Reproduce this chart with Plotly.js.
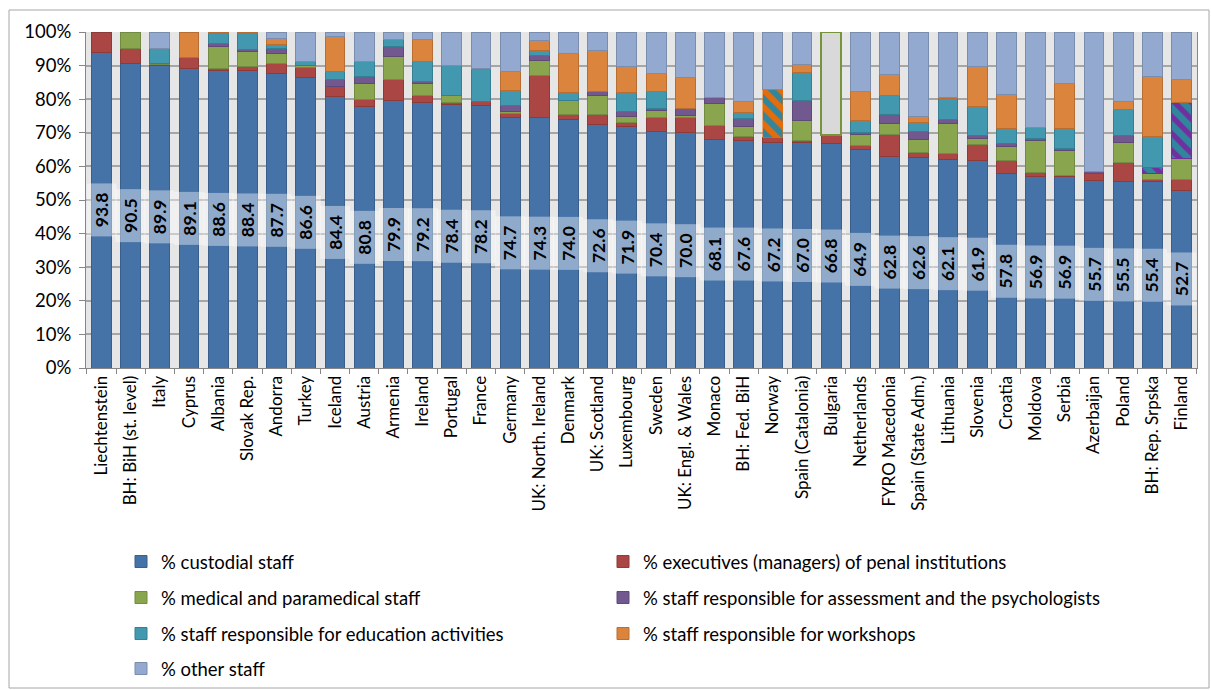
<!DOCTYPE html>
<html>
<head>
<meta charset="utf-8">
<script src="https://cdn.plot.ly/plotly-3.0.1.min.js"></script>
<style>
  html, body { margin: 0; padding: 0; background: #ffffff; }
  #chart { width: 1211px; height: 690px; }
</style>
</head>
<body>
<div id="chart"></div>
<script>
// ---------------- DATA ----------------
const countries = ["Liechtenstein", "BH: BiH (st. level)", "Italy", "Cyprus", "Albania", "Slovak Rep.", "Andorra", "Turkey",
  "Iceland", "Austria", "Armenia", "Ireland", "Portugal", "France", "Germany", "UK: North. Ireland", "Denmark",
  "UK: Scotland", "Luxembourg", "Sweden", "UK: Engl. & Wales", "Monaco", "BH: Fed. BiH", "Norway", "Spain (Catalonia)",
  "Bulgaria", "Netherlands", "FYRO Macedonia", "Spain (State Adm.)", "Lithuania", "Slovenia", "Croatia", "Moldova",
  "Serbia", "Azerbaijan", "Poland", "BH: Rep. Srpska", "Finland"];

const seriesNames = ["% custodial staff", "% executives (managers) of penal institutions", "% medical and paramedical staff",
  "% staff responsible for assessment and the psychologists", "% staff responsible for education activities",
  "% staff responsible for workshops", "% other staff"];

const custodial = [93.8, 90.5, 89.9, 89.1, 88.6, 88.4, 87.7, 86.6, 80.7, 77.9, 79.7, 79.1, 78.3, 78.1, 74.6, 74.5, 73.9,
  72.6, 71.9, 70.4, 70.0, 68.1, 67.6, 67.2, 67.0, 66.8, 64.9, 62.8, 62.6, 62.1, 61.9, 57.8, 56.9, 56.9, 55.7, 55.5, 55.4, 52.7];

const executives = [6.2, 4.6, 0.4, 3.2, 0.6, 1.2, 2.8, 2.9, 3.2, 2.1, 6.2, 2.1, 0.6, 1.1, 1.0, 12.7, 1.4, 2.7, 1.3, 4.3,
  4.5, 4.1, 1.2, 1.4, 0.8, 2.5, 1.4, 6.6, 1.4, 1.7, 4.7, 4.0, 1.4, 0.5, 2.1, 5.8, 0.6, 3.3];

const medical = [null, 4.9, 0.2, null, 6.4, 4.6, 3.0, 0.6, null, 4.7, 6.7, 3.5, 2.3, null, 0.7, 4.2, 4.3, 5.7, 1.8, 2.0,
  0.7, 6.5, 3.1, null, 5.9, null, 3.1, 3.5, 4.0, 9.1, 1.7, 4.0, 9.3, 7.3, null, 5.8, 2.0, 6.3];

const assessment = [null, null, null, null, 1.0, 0.7, 1.5, null, 2.0, 2.0, 3.0, 0.5, null, null, 1.7, 1.7, null, 1.3,
  1.2, 0.5, 2.0, 1.8, 2.3, null, 6.0, null, 0.8, 2.5, 2.4, 1.0, 1.0, 1.0, 0.7, 0.7, 0.8, 2.2, null, null];

// BH: Rep. Srpska and Finland: assessment + education reported together (hatched purple/teal)
const assessEducCombined = [null, null, null, null, null, null, null, null, null, null, null, null, null, null, null,
  null, null, null, null, null, null, null, null, null, null, null, null, null, null, null, null, null, null, null, null,
  null, 1.8, 16.6];

const education = [null, null, 4.7, null, 3.0, 4.7, 1.4, 1.2, 2.3, 4.6, 2.2, 5.9, 8.7, 9.5, 4.6, 1.3, 2.4, null, 5.7,
  5.0, null, null, 1.7, null, 8.3, null, 3.5, 5.8, 2.8, 6.2, 8.4, 4.4, 3.4, 5.9, null, 7.6, 9.0, null];

const workshops = [null, null, null, 7.7, 0.4, 0.4, 1.7, null, 10.6, null, null, 6.7, null, 0.5, 5.7, 3.2, 11.7, 12.1,
  7.8, 5.5, 9.3, null, 3.3, null, 2.4, null, 8.7, 6.3, 1.7, 0.4, 12.0, 10.3, null, 13.3, null, 2.3, 17.9, 7.0];

// Norway: education + workshops reported together (hatched orange/teal)
const educWorkCombined = [null, null, null, null, null, null, null, null, null, null, null, null, null, null, null,
  null, null, null, null, null, null, null, null, 14.4, null, null, null, null, null, null, null, null, null, null, null,
  null, null, null];

const other = [null, null, 4.8, null, null, null, 1.9, 8.7, 1.2, 8.7, 2.2, 2.2, 10.1, 10.8, 11.7, 2.4, 6.3, 5.6, 10.3,
  12.3, 13.5, 19.5, 20.8, 17.0, 9.6, null, 17.6, 12.5, 25.1, 19.5, 10.3, 18.5, 28.3, 15.4, 41.4, 20.8, 13.3, 14.1];

// Bulgaria: no breakdown available (grey box)
const notBrokenDown = [null, null, null, null, null, null, null, null, null, null, null, null, null, null, null, null,
  null, null, null, null, null, null, null, null, null, 30.7, null, null, null, null, null, null, null, null, null, null,
  null, null];

const labels = ["93.8", "90.5", "89.9", "89.1", "88.6", "88.4", "87.7", "86.6", "84.4", "80.8", "79.9", "79.2", "78.4",
  "78.2", "74.7", "74.3", "74.0", "72.6", "71.9", "70.4", "70.0", "68.1", "67.6", "67.2", "67.0", "66.8", "64.9", "62.8",
  "62.6", "62.1", "61.9", "57.8", "56.9", "56.9", "55.7", "55.5", "55.4", "52.7"];

const yTicks = [0, 10, 20, 30, 40, 50, 60, 70, 80, 90, 100];

// ---------------- STYLE ----------------
const FONT = "Lato, 'Liberation Sans', sans-serif";
const FS = 17;
const FS_BIG = 18.5;
const fills = ["#4572A7", "#AA4643", "#89A54E", "#71588F", "#4198AF", "#DB843D", "#93A9CF"];
const edges = ["#3A5F8C", "#8E3A38", "#728A41", "#5E4977", "#367F92", "#B86E33", "#7A8DAD"];
const legendIds = ["legend", "legend2", "legend3", "legend4", "legend5", "legend6", "legend7"];

const mainSeries = [custodial, executives, medical, assessment, education, workshops, other];

const mk = (k) => ({
  type: "bar", name: seriesNames[k], x: countries, y: mainSeries[k], legend: legendIds[k],
  marker: { color: fills[k], line: { color: edges[k], width: 1 } }, hoverinfo: "x+y+name"
});

const traces = [
  mk(0), mk(1), mk(2), mk(3),
  {
    type: "bar", name: "assessment + education", x: countries, y: assessEducCombined, showlegend: false,
    marker: {
      color: "#31859C", line: { color: "#7030A0", width: 1 },
      pattern: { shape: "\\", fillmode: "overlay", fgcolor: "#7030A0", fgopacity: 1, size: 12, solidity: 0.45 }
    }, hoverinfo: "x+y+name"
  },
  mk(4), mk(5),
  {
    type: "bar", name: "education + workshops", x: countries, y: educWorkCombined, showlegend: false,
    marker: {
      color: "#E46C0A", line: { color: "#E46C0A", width: 0.5 },
      pattern: { shape: "\\", fillmode: "overlay", fgcolor: "#31859C", fgopacity: 1, size: 12, solidity: 0.5 }
    }, hoverinfo: "x+y+name"
  },
  mk(6),
  {
    type: "bar", name: "no breakdown", x: countries, y: notBrokenDown, showlegend: false,
    marker: { color: "#D9D9D9", line: { color: "#77933C", width: 2 } }, hoverinfo: "x+y+name"
  }
];

// value labels in a translucent band centred on the custodial bar
const annotations = countries.map((c, i) => ({
  x: c, y: custodial[i] / 2, xref: "x", yref: "y",
  text: "<b>" + labels[i] + "</b>",
  showarrow: false, textangle: -90,
  font: { family: FONT, size: 17.5, color: "#000000" },
  bgcolor: "rgba(255,255,255,0.40)",
  width: 52, height: 29, borderpad: 0
}));

// ---------------- LAYOUT ----------------
const L = 86, R = 14, T = 32, B = 322;
const W = 1211, H = 690;
const pw = W - L - R, ph = H - T - B;
const px2x = p => (p - L) / pw;
const py2y = p => (H - B - p) / ph;

const legendBase = {
  orientation: "v", xanchor: "left", yanchor: "middle", itemwidth: 30,
  font: { family: FONT, size: FS_BIG, color: "#000000" },
  bgcolor: "rgba(0,0,0,0)", borderwidth: 0
};
const legendCols = [121, 603, 121, 603, 121, 603, 121];
const legendRows = [562, 562, 598, 598, 634, 634, 669];

const layout = {
  width: W, height: H,
  margin: { l: L, r: R, t: T, b: B, pad: 0, autoexpand: false },
  paper_bgcolor: "#ffffff",
  plot_bgcolor: "#E6E6E6",
  barmode: "stack",
  bargap: 0.32,
  font: { family: FONT, size: FS, color: "#000000" },
  showlegend: true,
  xaxis: {
    type: "category",
    tickangle: -90,
    ticks: "outside", ticklen: 5, tickcolor: "#868686", tickson: "boundaries",
    showline: true, linecolor: "#868686", linewidth: 1,
    showgrid: false, automargin: false,
    tickfont: { family: FONT, size: FS, color: "#000000" },
    fixedrange: true
  },
  yaxis: {
    range: [0, 100],
    tickvals: yTicks,
    ticktext: yTicks.map(v => v + "%"),
    ticks: "outside", ticklen: 6, tickcolor: "#868686",
    ticklabelstandoff: 4,
    showline: true, linecolor: "#868686", linewidth: 1, mirror: true,
    showgrid: true, gridcolor: "#A6A6A6", gridwidth: 2,
    zeroline: false, automargin: false,
    tickfont: { family: FONT, size: FS_BIG, color: "#000000" },
    fixedrange: true
  },
  annotations: annotations,
  shapes: [{
    type: "rect", xref: "paper", yref: "paper",
    x0: px2x(9), x1: px2x(1209), y0: py2y(688), y1: py2y(10),
    line: { color: "#A6A6A6", width: 1 }, fillcolor: "rgba(0,0,0,0)", layer: "below"
  }]
};
legendIds.forEach((id, k) => {
  layout[id] = Object.assign({}, legendBase, { x: px2x(legendCols[k]), y: py2y(legendRows[k]) });
});

Plotly.newPlot("chart", traces, layout, { displayModeBar: false, staticPlot: true });
</script>
</body>
</html>
